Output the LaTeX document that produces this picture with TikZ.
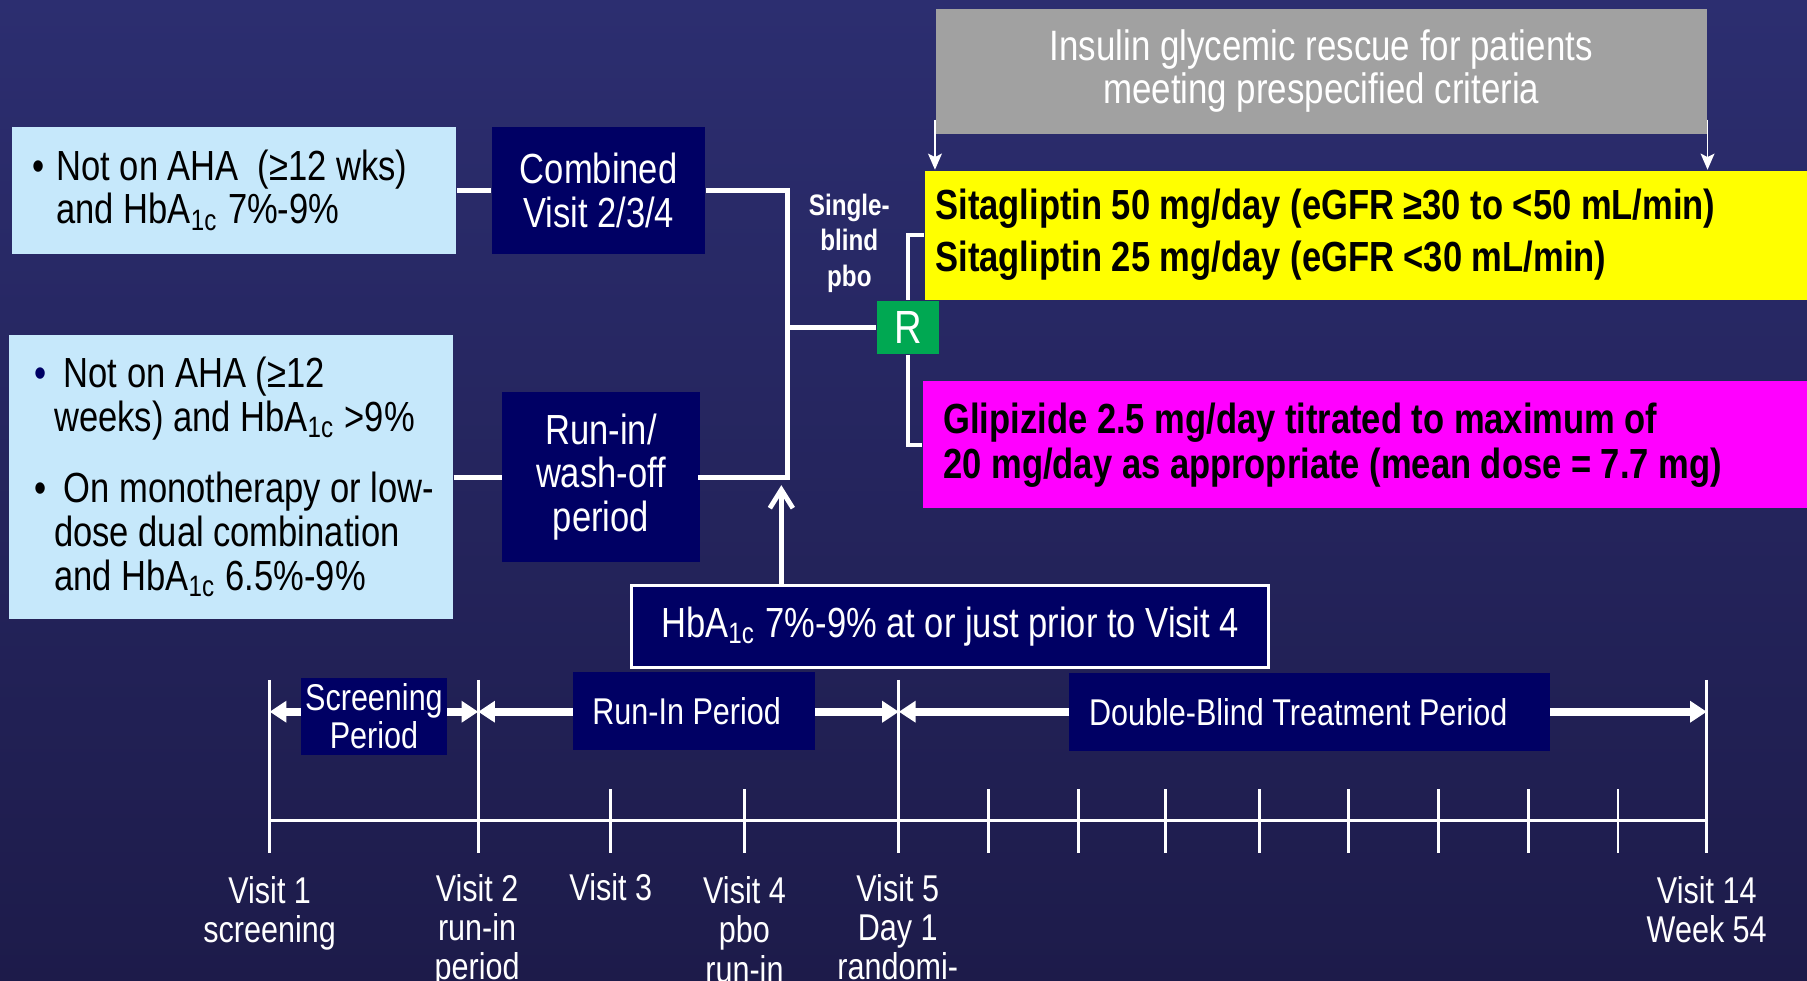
\documentclass[tikz,border=0pt]{standalone}
\usepackage{fontspec}
\setmainfont{Liberation Sans}[FakeStretch=0.82]
\usetikzlibrary{arrows.meta}

\definecolor{bgtop}{RGB}{44,46,112}
\definecolor{bgbot}{RGB}{29,27,74}
\definecolor{navy}{RGB}{0,0,100}
\definecolor{paleblue}{RGB}{198,232,251}
\definecolor{rgreen}{RGB}{0,168,82}
\definecolor{rgray}{RGB}{161,161,161}
\definecolor{sitayellow}{RGB}{255,255,0}
\definecolor{glipmagenta}{RGB}{255,0,255}

\newcommand{\hba}{HbA\textsubscript{1c}}
\newcommand{\bul}[1]{\makebox[#1][l]{\textbullet}}
\newcommand{\nsp}{\spaceskip=0pt\xspaceskip=0pt\relax}
\newcommand{\boxfont}{\fontsize{10.4}{10.8}\selectfont}
\newcommand{\grayfont}{\fontsize{10.5}{10.6}\selectfont}
\newcommand{\sitafont}{\bfseries\fontsize{10.4}{12.8}\selectfont}
\newcommand{\glipfont}{\bfseries\fontsize{10.4}{11.1}\selectfont}
\newcommand{\tlfont}{\fontsize{9.2}{9.4}\selectfont}
\newcommand{\vfont}{\fontsize{9.2}{9.7}\selectfont}
\newcommand{\sbfont}{\bfseries\fontsize{7.3}{8.7}\selectfont}
\newcommand{\rfont}{\fontsize{11.5}{12}\selectfont}

\begin{document}
\begin{tikzpicture}[x=0.1mm,y=-0.1mm,
  wire/.style={white,line width=0.42mm},
  bwire/.style={white,line width=0.3mm},
  tline/.style={white,line width=0.25mm},
  lbox/.style={fill=paleblue,text=black,align=left,font=\boxfont,inner ysep=0pt},
  nbox/.style={fill=navy,text=white,align=center,inner sep=0pt},
  pbox/.style={fill=navy,text=white,align=left,font=\tlfont,inner xsep=1.7mm,inner ysep=0pt},
  period/.style={white,line width=0.67mm,{Triangle[length=1.45mm,width=1.8mm]}-{Triangle[length=1.45mm,width=1.8mm]}},
  vlab/.style={text=white,align=center,font=\vfont,inner sep=0pt,anchor=north}]
\clip (0,0) rectangle (1568,851);
\shade[top color=bgtop,bottom color=bgbot] (0,0) rectangle (1568,851);

% entry criteria
\node[lbox,minimum width=38.6mm,minimum height=11mm,text width=35mm,inner xsep=1.8mm] (crit1) at (203,165)
  {\nsp\bul{2.1mm}Not on AHA\ \ (≥12 wks)\\\hspace*{2.1mm}and \hba{} 7\%-9\%};
\node[lbox,minimum width=38.5mm,minimum height=24.6mm,text width=34.1mm,inner xsep=2.2mm] (crit2) at (200.5,414)
  {\nsp\mbox{\makebox[1.7mm][l]{\color{navy}\textbullet}\ Not on AHA (≥12}\\\mbox{\hspace*{1.7mm}weeks) and \hba{} >9\%}\\[2.4mm]
   \mbox{\bul{1.7mm}\ On monotherapy or low-}\\\mbox{\hspace*{1.7mm}dose dual combination}\\\mbox{\hspace*{1.7mm}and \hba{} 6.5\%-9\%}};

\node[nbox,font=\boxfont,minimum width=18.5mm,minimum height=11mm] (comb) at (519.5,165) {Combined\\Visit 2/3/4};
\node[nbox,font=\boxfont,minimum width=17.1mm,minimum height=14.8mm] (runin) at (521.5,414) {Run-in/\\wash-off\\period};

\node[text=white,align=center,font=\sbfont,inner sep=0pt] (sbp) at (737,211) {Single-\\blind\\pbo};
\node[fill=rgreen,text=white,minimum width=5.4mm,minimum height=4.6mm,inner sep=0pt,font=\rfont] (rand) at (788,284) {R};

% treatment arms
\node[fill=sitayellow,anchor=west,minimum height=11.2mm,text width=75.5mm,inner xsep=0.9mm,align=left,font=\sitafont] (sita) at (802,204)
  {\nsp Sitagliptin 50 mg/day (eGFR ≥30 to <50 mL/min)\\Sitagliptin 25 mg/day (eGFR <30 mL/min)};
\node[fill=glipmagenta,anchor=west,minimum height=11mm,text width=73.9mm,inner xsep=1.8mm,align=left,font=\glipfont] (glip) at (800,386)
  {\nsp Glipizide 2.5 mg/day titrated to maximum of\\20 mg/day as appropriate (mean dose = 7.7 mg)};
\node[fill=rgray,text=white,align=center,font=\grayfont,minimum width=66.9mm,minimum height=10.8mm,inner sep=0pt] (rescue) at (1146.5,62)
  {Insulin glycemic rescue for patients\\meeting prespecified criteria};

\node[nbox,draw=white,line width=0.25mm,font=\boxfont,minimum width=55.3mm,minimum height=7.1mm] (hb) at (824.5,543.5)
  {\hba{} 7\%-9\% at or just prior to Visit 4};

\coordinate (jb) at (683,414);
\coordinate (jr) at (683,284);
\coordinate (hbtip) at (678,421);

\draw[wire] (crit1) -- (comb);
\draw[wire] (crit2) -- (runin);
\draw[wire] (comb.east) -| (jb);
\draw[wire,line cap=rect] (runin.east) -- (jb);
\draw[wire] (jr) -- (rand.west);
\draw[wire,-{Straight Barb[length=1.6mm,width=2mm]}] (hb.north -| hbtip) -- (hbtip);
\draw[bwire] (rand.north) |- (sita.west);
\draw[bwire] (rand.south) |- (glip.west);
\draw[white,line width=0.15mm,-{Stealth[length=1.4mm,width=1.2mm,inset=0.3mm]}] ([yshift=1.3mm]rescue.south west) -- (rescue.south west |- sita.north);
\draw[white,line width=0.15mm,-{Stealth[length=1.4mm,width=1.2mm,inset=0.3mm]}] ([yshift=1.3mm]rescue.south east) -- (rescue.south east |- sita.north);

% timeline
\draw[tline] (234,711.6) -- (1481,711.6);
\foreach \x in {234,415,780,1481}
  \draw[tline] (\x,590) -- (\x,740);
\foreach \x in {530,646,858,936,1011,1093,1170,1248,1326,1404}
  \draw[tline] (\x,685) -- (\x,740);

\coordinate (t1) at (234,617.6);
\coordinate (t2) at (415,617.6);
\coordinate (t5) at (780,617.6);
\coordinate (t14) at (1481,617.6);
\draw[period] (t1) -- (t2);
\draw[period] (t2) -- (t5);
\draw[period] (t5) -- (t14);

\node[nbox,font=\tlfont,minimum width=12.7mm,minimum height=6.7mm] (scr) at (324.5,621.5) {Screening\\Period};
\node[pbox,text width=17.6mm,minimum height=6.8mm] (rip) at (602,617) {\nsp Run-In Period};
\node[pbox,text width=38.3mm,minimum height=6.8mm] (dbp) at (1136.5,618) {\nsp Double-Blind Treatment Period};

\node[vlab] (lv1) at (234,760) {Visit 1\\screening};
\node[vlab] (lv2) at (414,758) {Visit 2\\run-in\\period};
\node[vlab] (lv3) at (530,757) {Visit 3};
\node[vlab] (lv4) at (646,760) {Visit 4\\pbo\\run-in};
\node[vlab] (lv5) at (779,758) {Visit 5\\Day 1\\randomi-};
\node[vlab] (lv14) at (1481,760) {Visit 14\\Week 54};
\end{tikzpicture}
\end{document}
